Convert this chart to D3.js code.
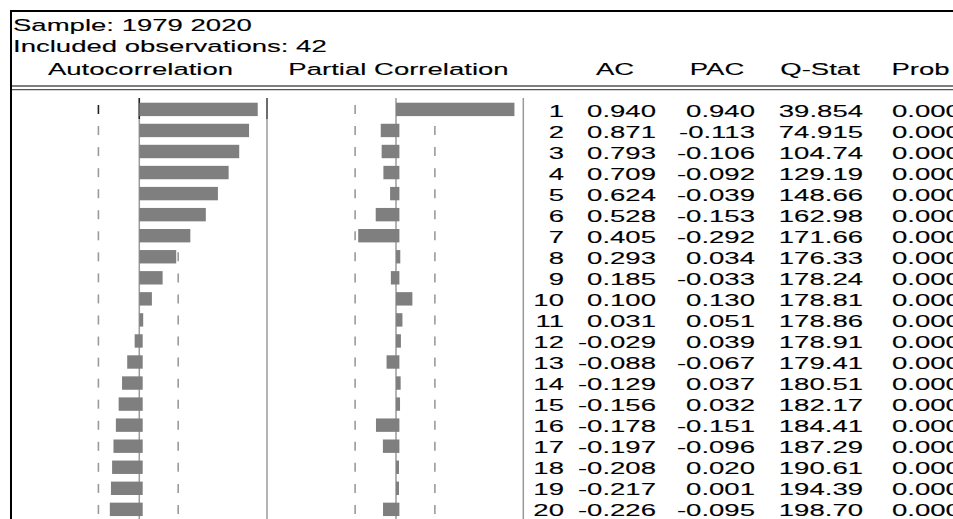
<!DOCTYPE html>
<html>
<head>
<meta charset="utf-8">
<script src="https://cdn.jsdelivr.net/npm/d3@7"></script>
<style>
  html, body { margin: 0; padding: 0; background: #fff; }
  svg { display: block; }
  text { font-family: "Liberation Sans", Arial, Helvetica, sans-serif; fill: #000; stroke: #000; stroke-width: 0.12; }
</style>
</head>
<body>
<svg id="chart" width="953" height="519"></svg>
<script>
// ---- data ----
const sampleText = "Sample: 1979 2020";
const obsText = "Included observations: 42";
const panelTitles = ["Autocorrelation", "Partial Correlation"];
const columnTitles = ["AC", "PAC", "Q-Stat", "Prob"];
const lags = [1,2,3,4,5,6,7,8,9,10,11,12,13,14,15,16,17,18,19,20];
const ac = [0.940,0.871,0.793,0.709,0.624,0.528,0.405,0.293,0.185,0.100,0.031,-0.029,-0.088,-0.129,-0.156,-0.178,-0.197,-0.208,-0.217,-0.226];
const pac = [0.940,-0.113,-0.106,-0.092,-0.039,-0.153,-0.292,0.034,-0.033,0.130,0.051,0.039,-0.067,0.037,0.032,-0.151,-0.096,0.020,0.001,-0.095];
const qstat = [39.854,74.915,104.74,129.19,148.66,162.98,171.66,176.33,178.24,178.81,178.86,178.91,179.41,180.51,182.17,184.41,187.29,190.61,194.39,198.70];
const prob = [0,0,0,0,0,0,0,0,0,0,0,0,0,0,0,0,0,0,0,0];
const nObs = 42;

// ---- layout ----
const svg = d3.select("#chart");
const W = 953, H = 519;
const FS = 17, SX = 1.62;
const barColor = "#7f7f7f";
const lineColor = "#9a9a9a";
const unit = 126;
const acZero = 139.3, pacZero = 396;
const xAC = d3.scaleLinear().domain([-1, 1]).range([acZero - unit, acZero + unit]);
const xPAC = d3.scaleLinear().domain([-1, 1]).range([pacZero - unit, pacZero + unit]);
const y = d3.scaleLinear().domain([1, 20]).range([116.5, 116.5 + 19 * 21.05]);
const bound = 2 / Math.sqrt(nObs);

function txt(g, s, x, yy, anchor) {
  g.append("text")
    .attr("transform", `translate(${x},${yy}) scale(${SX},1)`)
    .attr("text-anchor", anchor || "start")
    .attr("font-size", FS)
    .text(s);
}

// frame
svg.append("line").attr("x1", 10).attr("x2", W).attr("y1", 11).attr("y2", 11)
  .attr("stroke", "#000").attr("stroke-width", 2);
svg.append("line").attr("x1", 11).attr("x2", 11).attr("y1", 10).attr("y2", H)
  .attr("stroke", "#000").attr("stroke-width", 2);
[86, 89.6].forEach(yy => svg.append("line").attr("x1", 12).attr("x2", W)
  .attr("y1", yy).attr("y2", yy).attr("stroke", "#555").attr("stroke-width", 1.4));

// header text
const head = svg.append("g");
txt(head, sampleText, 13, 31);
txt(head, obsText, 13, 52);
txt(head, panelTitles[0], 140.5, 75, "middle");
txt(head, panelTitles[1], 398.5, 75, "middle");
const colCenters = [615, 717, 820, 920.5];
columnTitles.forEach((t, i) => txt(head, t, colCenters[i], 75, "middle"));

// panels
const panels = [{x: xAC, zero: acZero, vals: ac, sep: 267}, {x: xPAC, zero: pacZero, vals: pac, sep: 523.3}];
panels.forEach((p, pi) => {
  const g = svg.append("g");
  g.append("line").attr("x1", p.zero).attr("x2", p.zero).attr("y1", 98).attr("y2", H)
    .attr("stroke", lineColor).attr("stroke-width", 1.5);
  g.append("line").attr("x1", p.sep).attr("x2", p.sep).attr("y1", 98).attr("y2", H)
    .attr("stroke", lineColor).attr("stroke-width", 1.5);
  if (pi === 0) {
    g.append("line").attr("x1", p.zero).attr("x2", p.zero).attr("y1", 98).attr("y2", 119)
      .attr("stroke", "#222").attr("stroke-width", 1.5);
    g.append("line").attr("x1", p.sep).attr("x2", p.sep).attr("y1", 98).attr("y2", 119)
      .attr("stroke", "#555").attr("stroke-width", 1.5);
  }
  lags.forEach((l, i) => {
    const cy = y(l) - 7;
    [p.x(-bound) - 2, p.x(bound)].forEach((dx, k) => {
      g.append("line").attr("x1", dx).attr("x2", dx).attr("y1", cy - 4.5).attr("y2", cy + 4.5)
        .attr("stroke", (pi === 0 && i === 0 && k === 0) ? "#222" : lineColor)
        .attr("stroke-width", 1.6);
    });
  });
  g.selectAll("rect.bar").data(p.vals).join("rect")
    .attr("class", "bar")
    .attr("x", d => d >= 0 ? p.zero : p.x(d) - 1)
    .attr("width", d => d >= 0 ? Math.max(p.x(d) - p.zero, 3) : (p.zero + 3.4) - (p.x(d) - 1))
    .attr("y", (d, i) => y(lags[i]) - 13.8)
    .attr("height", 13.4)
    .attr("fill", barColor);
});

// table
const tg = svg.append("g");
lags.forEach((l, i) => {
  const yy = y(l);
  txt(tg, String(l), 564, yy, "end");
  txt(tg, ac[i].toFixed(3), 656, yy, "end");
  txt(tg, pac[i].toFixed(3), 755, yy, "end");
  txt(tg, qstat[i] < 100 ? qstat[i].toFixed(3) : qstat[i].toFixed(2), 863, yy, "end");
  txt(tg, prob[i].toFixed(3), 892, yy, "start");
});
</script>
</body>
</html>
